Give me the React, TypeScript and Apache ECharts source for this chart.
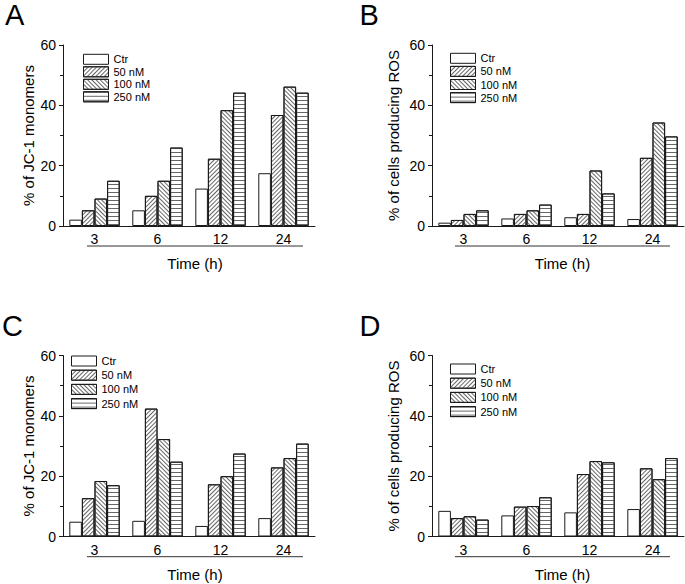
import React, { useEffect, useRef } from "react";
import * as echarts from "echarts";

const categories = ["3", "6", "12", "24"];
const seriesNames = ["Ctr", "50 nM", "100 nM", "250 nM"];

const aCtr = [2.1, 5.2, 12.4, 17.5];
const a50 = [5.2, 10, 22.3, 36.8];
const a100 = [9.1, 15, 38.4, 46.2];
const a250 = [15, 26, 44.2, 44.2];

const bCtr = [1.1, 2.5, 2.9, 2.3];
const b50 = [2, 4, 4, 22.6];
const b100 = [4, 5.2, 18.4, 34.3];
const b250 = [5.2, 7.1, 10.8, 29.7];

const cCtr = [4.9, 5.2, 3.5, 6.1];
const c50 = [12.7, 42.4, 17.3, 22.9];
const c100 = [18.4, 32.3, 20, 26];
const c250 = [17, 24.8, 27.5, 30.8];

const dCtr = [8.5, 7, 8, 9.1];
const d50 = [6.1, 9.9, 20.7, 22.6];
const d100 = [6.7, 10.1, 25, 19];
const d250 = [5.6, 13, 24.6, 26];

const panelLetters = ["A", "B", "C", "D"];
const yTitles = [
  "% of JC-1 monomers",
  "% of cells producing ROS",
  "% of JC-1 monomers",
  "% of cells producing ROS",
];
const xTitle = "Time (h)";

const panelData = [
  [aCtr, a50, a100, a250],
  [bCtr, b50, b100, b250],
  [cCtr, c50, c100, c250],
  [dCtr, d50, d100, d250],
];

const FONT = "'Liberation Sans', Arial, sans-serif";
const INK = "#1a1a1a";
const HATCH = "#666";

const decals: any[] = [
  null,
  { symbol: "rect", symbolSize: 1, dashArrayX: [1, 0], dashArrayY: [1, 2], rotation: -Math.PI / 4, color: HATCH },
  { symbol: "rect", symbolSize: 1, dashArrayX: [1, 0], dashArrayY: [1, 2], rotation: Math.PI / 4, color: HATCH },
  { symbol: "rect", symbolSize: 1, dashArrayX: [1, 0], dashArrayY: [1, 3], rotation: 0, color: HATCH },
];

// layout
const grids = [
  { left: 63, top: 45, width: 252, height: 181 },
  { left: 432, top: 45, width: 252, height: 181 },
  { left: 63, top: 355.5, width: 252, height: 181 },
  { left: 432, top: 355.5, width: 252, height: 181 },
];
const legends = [
  { left: 83, top: 53.8, gap: 1.5 },
  { left: 450, top: 52.8, gap: 2.1 },
  { left: 71, top: 355.5, gap: 3.2 },
  { left: 450, top: 363.5, gap: 3.2 },
];
const letterPos = [
  { x: 5, y: 0 },
  { x: 359.5, y: 0 },
  { x: 2, y: 311.5 },
  { x: 359.5, y: 311.5 },
];
const underlines = [
  { x1: 87, x2: 303, y: 246 },
  { x1: 455, x2: 670, y: 246 },
  { x1: 87, x2: 303, y: 556.7 },
  { x1: 455, x2: 670, y: 556.7 },
];
const yNameGap = [27, 31, 27, 31];

export default function App() {
  const ref = useRef<HTMLDivElement>(null);
  useEffect(() => {
    if (!ref.current) return;
    const chart = echarts.init(ref.current, null, { renderer: "svg" });

    const xAxis = grids.map((g, i) => ({
      type: "category",
      gridIndex: i,
      data: categories,
      axisLine: { lineStyle: { color: INK, width: 1 } },
      axisTick: { show: false },
      axisLabel: { color: "#000", fontSize: 14, fontFamily: FONT, margin: 6 },
      name: xTitle,
      nameLocation: "middle",
      nameGap: 30,
      nameTextStyle: {
        color: "#000",
        fontSize: 15,
        fontFamily: FONT,
        padding: [0, 0, 0, ((underlines[i].x1 + underlines[i].x2) / 2 - (g.left + g.width / 2)) * 2],
      },
    }));

    const yAxis = grids.map((g, i) => ({
      type: "value",
      gridIndex: i,
      min: 0,
      max: 60,
      interval: 20,
      axisLine: { show: true, lineStyle: { color: INK, width: 1 } },
      axisTick: { show: true, length: 4, lineStyle: { color: INK } },
      minorTick: { show: true, splitNumber: 2, length: 3, lineStyle: { color: INK } },
      splitLine: { show: false },
      axisLabel: { color: "#000", fontSize: 14, fontFamily: FONT, margin: 7 },
      name: yTitles[i],
      nameLocation: "middle",
      nameGap: yNameGap[i],
      nameTextStyle: { color: "#000", fontSize: 15, fontFamily: FONT },
    }));

    const series: any[] = [];
    panelData.forEach((groups, i) => {
      groups.forEach((vals, k) => {
        const itemStyle: any = { color: "#fff", borderColor: INK, borderWidth: 1 };
        if (decals[k]) itemStyle.decal = decals[k];
        series.push({
          type: "bar",
          name: seriesNames[k],
          xAxisIndex: i,
          yAxisIndex: i,
          data: vals,
          barGap: "0%",
          barCategoryGap: "20%",
          itemStyle,
          emphasis: { disabled: true },
        });
      });
    });

    const legend = legends.map((l) => ({
      orient: "vertical",
      left: l.left,
      top: l.top,
      padding: 0,
      itemGap: l.gap,
      itemWidth: 25,
      itemHeight: 10,
      icon: "rect",
      data: seriesNames,
      selectedMode: false,
      textStyle: { color: "#000", fontSize: 11, fontFamily: FONT },
      itemStyle: { color: "#fff", borderColor: INK, borderWidth: 1 },
    }));

    const graphic: any[] = [];
    letterPos.forEach((p, i) => {
      graphic.push({
        type: "text",
        x: p.x,
        y: p.y,
        style: {
          text: panelLetters[i],
          fontSize: 29,
          fontFamily: FONT,
          fill: "#000",
          textAlign: "left",
          textVerticalAlign: "top",
        },
      });
    });
    underlines.forEach((u) => {
      graphic.push({
        type: "line",
        shape: { x1: u.x1, y1: u.y, x2: u.x2, y2: u.y },
        style: { stroke: "#333", lineWidth: 1 },
      });
    });

    chart.setOption({
      animation: false,
      backgroundColor: "#fff",
      grid: grids.map((g) => ({ ...g, containLabel: false })),
      xAxis,
      yAxis,
      legend,
      series,
      graphic,
    });
    return () => chart.dispose();
  }, []);

  return (
    <div
      ref={ref}
      style={{ position: "absolute", left: 0, top: 0, width: 685, height: 584, background: "#fff" }}
    />
  );
}
